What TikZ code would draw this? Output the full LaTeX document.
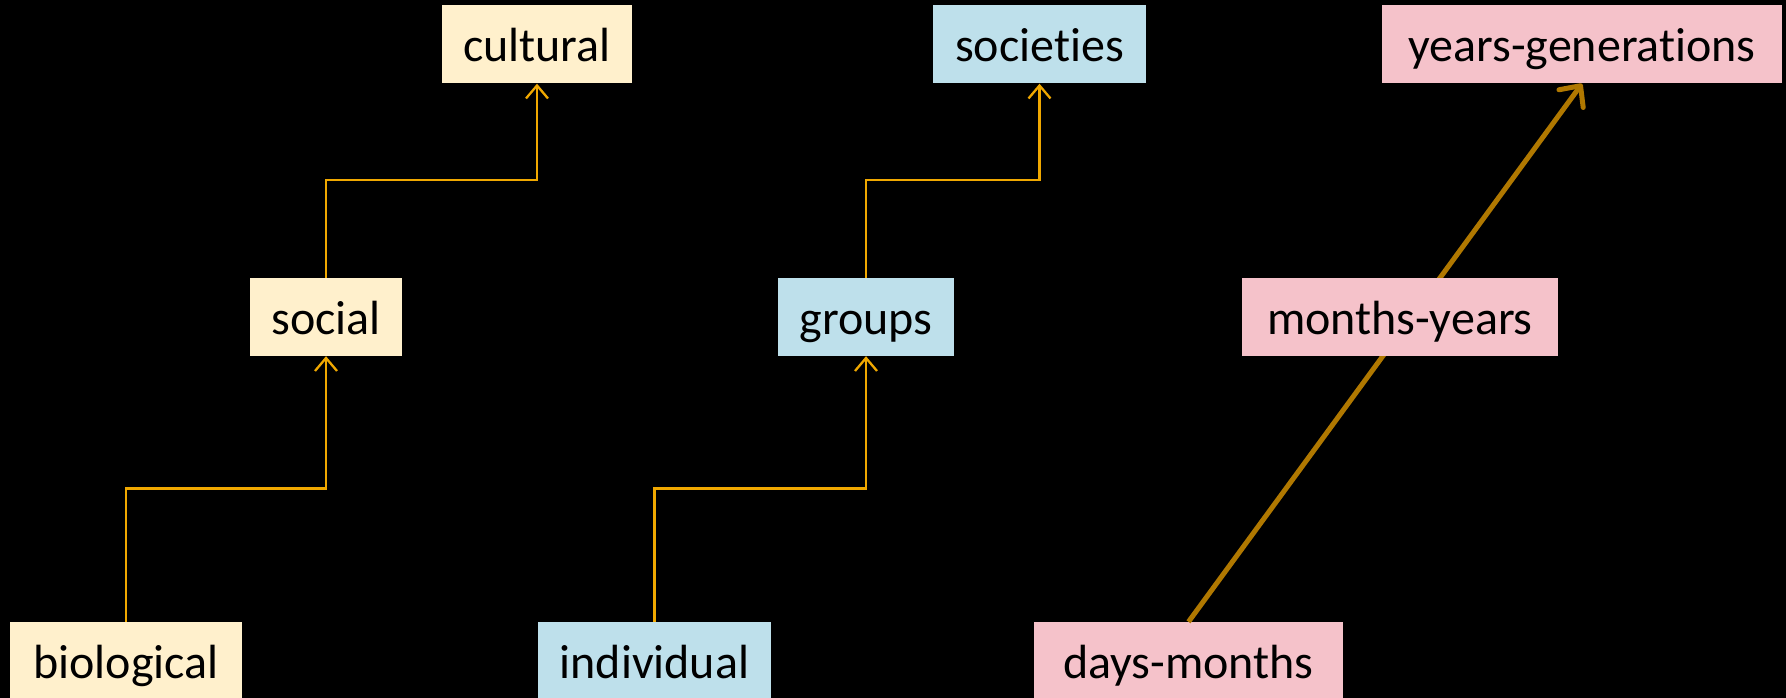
\documentclass[tikz,border=0pt]{standalone}
\usepackage{fontspec}
\setmainfont{Carlito}[Ligatures=NoCommon]
\usetikzlibrary{arrows.meta}
\definecolor{lineor}{RGB}{240,168,0}
\definecolor{linebr}{RGB}{176,120,0}
\definecolor{fillye}{RGB}{255,240,204}
\definecolor{fillbl}{RGB}{190,224,235}
\definecolor{fillpk}{RGB}{245,194,202}
\tikzset{
  box/.style={rectangle, inner sep=0pt, minimum height=78pt, text=black,
    text height=41pt, text depth=7pt,
    font=\fontsize{48}{58}\selectfont},
  ybox/.style={box, fill=fillye},
  bbox/.style={box, fill=fillbl},
  pbox/.style={box, fill=fillpk},
  link/.style={draw=lineor, line width=2.3pt, -{Straight Barb[length=13pt,width=22pt,line width=2.3pt]}},
  biglink/.style={draw=linebr, line width=5pt, -{Straight Barb[length=16pt,width=30pt,line width=5pt,round]}},
}
\begin{document}
\begin{tikzpicture}[x=1pt,y=-1pt]
\fill[black] (0,0) rectangle (1786,698);
\useasboundingbox (0,0) rectangle (1786,698);
% yellow column
\node[ybox, minimum width=232pt] (bio) at (126,661) {biological};
\node[ybox, minimum width=152pt] (soc) at (326,317) {social};
\node[ybox, minimum width=190pt] (cul) at (537,44.5) {cultural};
% blue column
\node[bbox, minimum width=233pt] (ind) at (654.5,661) {individual};
\node[bbox, minimum width=176pt] (grp) at (866,317) {groups};
\node[bbox, minimum width=213pt] (soci) at (1039.5,44.5) {societies};
% pink column
\node[pbox, minimum width=309pt] (days) at (1188.5,661) {days-months};
\node[pbox, minimum width=400pt] (years) at (1582,44.5) {years-generations};
\draw[biglink] (days.north) -- (years.south);
\node[pbox, minimum width=316pt] (months) at (1400,317) {months-years};
% connectors
\draw[link] (bio.north) -- (bio.north |- 0,488.6) -| (soc.south);
\draw[link] (soc.north) -- (soc.north |- 0,180) -| (cul.south);
\draw[link] (ind.north) -- (ind.north |- 0,488.6) -| (grp.south);
\draw[link] (grp.north) -- (grp.north |- 0,180) -| (soci.south);
\end{tikzpicture}
\end{document}
